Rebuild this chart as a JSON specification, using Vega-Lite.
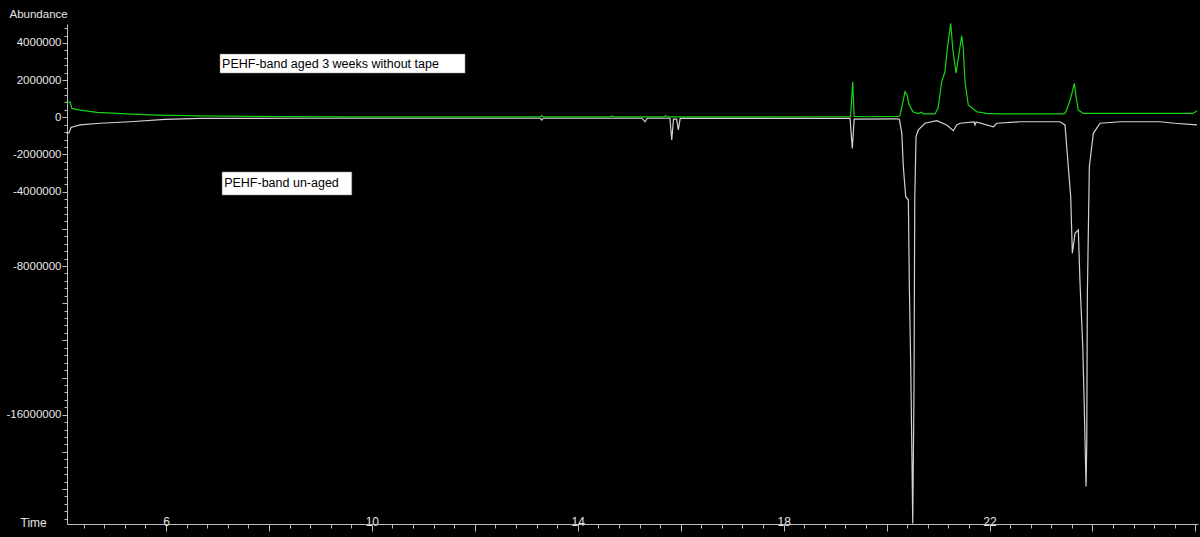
{
 "$schema": "https://vega.github.io/schema/vega-lite/v6.json",
 "width": 1131, "height": 500,
 "autosize": {"type": "none"},
 "padding": {"left": 67, "top": 24, "right": 2, "bottom": 13},
 "background": "#000000",
 "config": {"view": {"stroke": null, "fill": "#000000"}, "font": "Liberation Sans"},
 "datasets": {
  "traces": [
   {"series":"aged","t":4.06,"v":820000},{"series":"aged","t":4.136,"v":820000},{"series":"aged","t":4.174,"v":480000},{"series":"aged","t":4.33,"v":390000},{"series":"aged","t":4.66,"v":270000},{"series":"aged","t":5.24,"v":180000},{"series":"aged","t":5.83,"v":120000},{"series":"aged","t":6.66,"v":80000},{"series":"aged","t":7.63,"v":50000},{"series":"aged","t":8.3,"v":40000},{"series":"aged","t":9.58,"v":20000},{"series":"aged","t":13.27,"v":20000},{"series":"aged","t":13.3,"v":90000},{"series":"aged","t":13.33,"v":20000},{"series":"aged","t":14.63,"v":20000},{"series":"aged","t":14.66,"v":80000},{"series":"aged","t":14.69,"v":20000},{"series":"aged","t":15.68,"v":20000},{"series":"aged","t":15.71,"v":90000},{"series":"aged","t":15.74,"v":20000},{"series":"aged","t":19.3,"v":30000},{"series":"aged","t":19.342,"v":1910000},{"series":"aged","t":19.37,"v":50000},{"series":"aged","t":19.6,"v":30000},{"series":"aged","t":20.24,"v":50000},{"series":"aged","t":20.26,"v":100000},{"series":"aged","t":20.3,"v":600000},{"series":"aged","t":20.358,"v":1380000},{"series":"aged","t":20.397,"v":1200000},{"series":"aged","t":20.436,"v":700000},{"series":"aged","t":20.51,"v":300000},{"series":"aged","t":20.61,"v":200000},{"series":"aged","t":20.68,"v":270000},{"series":"aged","t":20.71,"v":180000},{"series":"aged","t":20.94,"v":180000},{"series":"aged","t":21.0,"v":500000},{"series":"aged","t":21.07,"v":1910000},{"series":"aged","t":21.134,"v":2450000},{"series":"aged","t":21.18,"v":3710000},{"series":"aged","t":21.246,"v":5050000},{"series":"aged","t":21.285,"v":3710000},{"series":"aged","t":21.349,"v":2370000},{"series":"aged","t":21.413,"v":3530000},{"series":"aged","t":21.459,"v":4390000},{"series":"aged","t":21.49,"v":3710000},{"series":"aged","t":21.523,"v":1910000},{"series":"aged","t":21.587,"v":660000},{"series":"aged","t":21.751,"v":300000},{"series":"aged","t":21.945,"v":210000},{"series":"aged","t":22.2,"v":180000},{"series":"aged","t":23.447,"v":180000},{"series":"aged","t":23.486,"v":300000},{"series":"aged","t":23.564,"v":930000},{"series":"aged","t":23.609,"v":1380000},{"series":"aged","t":23.648,"v":1830000},{"series":"aged","t":23.681,"v":1100000},{"series":"aged","t":23.725,"v":390000},{"series":"aged","t":23.822,"v":210000},{"series":"aged","t":24.15,"v":210000},{"series":"aged","t":25.95,"v":210000},{"series":"aged","t":26.03,"v":350000},
   {"series":"unaged","t":4.07,"v":-840000},{"series":"unaged","t":4.116,"v":-840000},{"series":"unaged","t":4.155,"v":-550000},{"series":"unaged","t":4.33,"v":-410000},{"series":"unaged","t":4.72,"v":-320000},{"series":"unaged","t":5.3,"v":-240000},{"series":"unaged","t":5.98,"v":-110000},{"series":"unaged","t":6.66,"v":-60000},{"series":"unaged","t":8.5,"v":-50000},{"series":"unaged","t":13.27,"v":-50000},{"series":"unaged","t":13.3,"v":-150000},{"series":"unaged","t":13.33,"v":-50000},{"series":"unaged","t":15.25,"v":-50000},{"series":"unaged","t":15.307,"v":-240000},{"series":"unaged","t":15.35,"v":-50000},{"series":"unaged","t":15.79,"v":-50000},{"series":"unaged","t":15.826,"v":-1220000},{"series":"unaged","t":15.86,"v":-100000},{"series":"unaged","t":15.92,"v":-100000},{"series":"unaged","t":15.954,"v":-680000},{"series":"unaged","t":15.99,"v":-60000},{"series":"unaged","t":19.29,"v":-60000},{"series":"unaged","t":19.334,"v":-1670000},{"series":"unaged","t":19.37,"v":-100000},{"series":"unaged","t":20.22,"v":-80000},{"series":"unaged","t":20.248,"v":-110000},{"series":"unaged","t":20.295,"v":-840000},{"series":"unaged","t":20.325,"v":-2660000},{"series":"unaged","t":20.372,"v":-4270000},{"series":"unaged","t":20.423,"v":-4450000},{"series":"unaged","t":20.442,"v":-9110000},{"series":"unaged","t":20.469,"v":-13410000},{"series":"unaged","t":20.488,"v":-17350000},{"series":"unaged","t":20.508,"v":-21850000},{"series":"unaged","t":20.533,"v":-14480000},{"series":"unaged","t":20.547,"v":-4450000},{"series":"unaged","t":20.572,"v":-1040000},{"series":"unaged","t":20.617,"v":-680000},{"series":"unaged","t":20.747,"v":-320000},{"series":"unaged","t":20.974,"v":-180000},{"series":"unaged","t":21.168,"v":-410000},{"series":"unaged","t":21.297,"v":-720000},{"series":"unaged","t":21.363,"v":-410000},{"series":"unaged","t":21.427,"v":-320000},{"series":"unaged","t":21.7,"v":-250000},{"series":"unaged","t":21.718,"v":-410000},{"series":"unaged","t":21.74,"v":-250000},{"series":"unaged","t":22.074,"v":-510000},{"series":"unaged","t":22.14,"v":-320000},{"series":"unaged","t":22.593,"v":-240000},{"series":"unaged","t":23.37,"v":-240000},{"series":"unaged","t":23.466,"v":-410000},{"series":"unaged","t":23.53,"v":-2660000},{"series":"unaged","t":23.577,"v":-4270000},{"series":"unaged","t":23.609,"v":-7310000},{"series":"unaged","t":23.661,"v":-6240000},{"series":"unaged","t":23.725,"v":-6060000},{"series":"unaged","t":23.758,"v":-8920000},{"series":"unaged","t":23.811,"v":-12330000},{"series":"unaged","t":23.836,"v":-15020000},{"series":"unaged","t":23.875,"v":-19860000},{"series":"unaged","t":23.889,"v":-17530000},{"series":"unaged","t":23.9,"v":-9650000},{"series":"unaged","t":23.939,"v":-2660000},{"series":"unaged","t":24.017,"v":-860000},{"series":"unaged","t":24.147,"v":-320000},{"series":"unaged","t":24.535,"v":-240000},{"series":"unaged","t":25.31,"v":-240000},{"series":"unaged","t":25.6,"v":-320000},{"series":"unaged","t":26.03,"v":-410000}
  ],
  "notes": [
   {"label":"PEHF-band aged 3 weeks without tape","x1":7.05,"x2":11.81,"y1":3400000,"y2":2380000,"tx":7.09,"ty":2890000},
   {"label":"PEHF-band un-aged","x1":7.09,"x2":9.61,"y1":-2940000,"y2":-4180000,"tx":7.13,"ty":-3560000}
  ]
 },
 "layer": [
  {
   "data": {"name": "traces"},
   "mark": {"type": "line", "strokeWidth": 1.2, "clip": false},
   "encoding": {
    "x": {"field": "t", "type": "quantitative", "title": "Time",
     "scale": {"domain": [4.077, 26.05], "nice": false, "zero": false},
     "axis": {"orient": "bottom", "grid": false, "tickCount": 500,
      "values": [4.4,4.8,5.2,5.6,6,6.4,6.8,7.2,7.6,8,8.4,8.8,9.2,9.6,10,10.4,10.8,11.2,11.6,12,12.4,12.8,13.2,13.6,14,14.4,14.8,15.2,15.6,16,16.4,16.8,17.2,17.6,18,18.4,18.8,19.2,19.6,20,20.4,20.8,21.2,21.6,22,22.4,22.8,23.2,23.6,24,24.4,24.8,25.2,25.6,26],
      "tickSize": {"condition": {"test": "abs(datum.value/2 - round(datum.value/2)) < 0.01", "value": 7}, "value": 4},
      "labelExpr": "(abs((datum.value-2)/4 - round((datum.value-2)/4)) < 0.01 && datum.value > 5 && datum.value < 25) ? format(datum.value, 'd') : ''",
      "labelBaseline": "middle", "labelPadding": -10, "labelFlush": false, "labelOverlap": false,
      "labelColor": "#e6e6e6", "labelFontSize": 12,
      "domainColor": "#bdbdbd", "tickColor": "#bdbdbd",
      "titleColor": "#e6e6e6", "titleFontSize": 12, "titleFontWeight": "normal",
      "titleX": -47, "titleY": -2, "titleAlign": "left", "titleBaseline": "middle"}},
    "y": {"field": "v", "type": "quantitative", "title": "Abundance",
     "scale": {"domain": [-21880000, 5020000], "nice": false, "zero": false},
     "axis": {"grid": false, "tickCount": 500,
      "values": [4800000,4400000,4000000,3600000,3200000,2800000,2400000,2000000,1600000,1200000,800000,400000,0,-400000,-800000,-1200000,-1600000,-2000000,-2400000,-2800000,-3200000,-3600000,-4000000,-4400000,-4800000,-5200000,-5600000,-6000000,-6400000,-6800000,-7200000,-7600000,-8000000,-8400000,-8800000,-9200000,-9600000,-10000000,-10400000,-10800000,-11200000,-11600000,-12000000,-12400000,-12800000,-13200000,-13600000,-14000000,-14400000,-14800000,-15200000,-15600000,-16000000,-16400000,-16800000,-17200000,-17600000,-18000000,-18400000,-18800000,-19200000,-19600000,-20000000,-20400000,-20800000,-21200000,-21600000],
      "tickSize": {"condition": {"test": "abs(datum.value/2000000 - round(datum.value/2000000)) < 0.01", "value": 5}, "value": 3},
      "labelExpr": "indexof([4000000,2000000,0,-2000000,-4000000,-8000000,-16000000], datum.value) >= 0 ? ('' + datum.value) : ''",
      "labelPadding": 1, "labelOverlap": false, "labelFlush": false,
      "labelColor": "#e6e6e6", "labelFontSize": 11.5,
      "domainColor": "#bdbdbd", "tickColor": "#bdbdbd",
      "titleColor": "#e6e6e6", "titleFontSize": 11.5, "titleFontWeight": "normal", "titleAngle": 0,
      "titleX": -58, "titleY": -10, "titleAlign": "left", "titleBaseline": "middle"}},
    "color": {"field": "series", "type": "nominal", "legend": null,
     "scale": {"domain": ["aged", "unaged"], "range": ["#18d418", "#d2d2d2"]}}
   }
  },
  {
   "data": {"name": "notes"},
   "mark": {"type": "rect", "fill": "#ffffff", "stroke": "#888888", "strokeWidth": 0.5},
   "encoding": {
    "x": {"field": "x1", "type": "quantitative", "title": "Time"},
    "x2": {"field": "x2"},
    "y": {"field": "y1", "type": "quantitative", "title": "Abundance"},
    "y2": {"field": "y2"}
   }
  },
  {
   "data": {"name": "notes"},
   "mark": {"type": "text", "align": "left", "baseline": "middle", "fontSize": 12.5, "color": "#000000", "font": "Liberation Sans"},
   "encoding": {
    "x": {"field": "tx", "type": "quantitative", "title": "Time"},
    "y": {"field": "ty", "type": "quantitative", "title": "Abundance"},
    "text": {"field": "label"}
   }
  }
 ]
}
